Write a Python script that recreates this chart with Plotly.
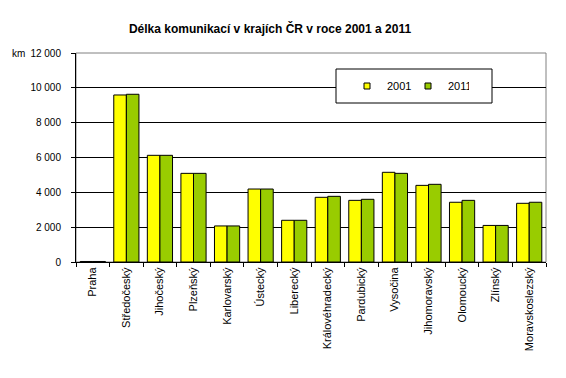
import plotly.graph_objects as go

categories = ["Praha", "Středočeský", "Jihočeský", "Plzeňský", "Karlovarský", "Ústecký",
              "Liberecký", "Královéhradecký", "Pardubický", "Vysočina", "Jihomoravský",
              "Olomoucký", "Zlínský", "Moravskoslezský"]
values_2001 = [30, 9590, 6125, 5090, 2070, 4190, 2395, 3715, 3540, 5150, 4400, 3430, 2100, 3370]
values_2011 = [30, 9630, 6125, 5090, 2070, 4190, 2395, 3770, 3600, 5090, 4460, 3540, 2100, 3430]
y_tick_values = [0, 2000, 4000, 6000, 8000, 10000, 12000]
y_tick_labels = ["0", "2 000", "4 000", "6 000", "8 000", "10 000", "12 000"]
series_names = ["2001", "2011"]
series_colors = ["#FFFF00", "#99CC00"]

FONT = "Liberation Sans, Arial, sans-serif"

fig = go.Figure()
for name, vals, col in zip(series_names, [values_2001, values_2011], series_colors):
    fig.add_trace(go.Bar(x=categories, y=vals, name=name, showlegend=False,
                         marker=dict(color=col, line=dict(color="black", width=1))))
# legend entries with small square symbols
for name, col in zip(series_names, series_colors):
    fig.add_trace(go.Scatter(x=[None], y=[None], name=name, mode="markers",
                             marker=dict(symbol="square", size=6, color=col,
                                         line=dict(color="black", width=1))))

L, R, T, B = 76, 20, 53, 116
W, H = 566, 378
pw, ph = W - L - R, H - T - B

def px_x(x):
    return (x - L) / pw

def px_y(y):
    return (H - B - y) / ph

fig.update_layout(
    width=W, height=H,
    margin=dict(l=L, r=R, t=T, b=B, pad=0),
    paper_bgcolor="white", plot_bgcolor="white",
    font=dict(family=FONT, size=11, color="black"),
    barmode="group", bargap=0.25, bargroupgap=0,
    title=dict(text="<b>Délka komunikací v krajích ČR v roce 2001 a 2011</b>",
               x=270 / W, xanchor="center", y=1 - 29 / H, yanchor="middle",
               font=dict(family=FONT, size=12, color="black")),
    showlegend=True,
    legend=dict(orientation="h", x=px_x(347), xanchor="left", y=px_y(86), yanchor="middle",
                bgcolor="rgba(0,0,0,0)", borderwidth=0,
                font=dict(family=FONT, size=11, color="black"),
                entrywidth=16, entrywidthmode="pixels", itemwidth=30,
                traceorder="normal"),
    xaxis=dict(type="category", showline=True, linecolor="black", linewidth=1,
               ticks="outside", tickson="boundaries", ticklen=4, tickcolor="black",
               tickangle=-90, showgrid=False,
               tickfont=dict(family=FONT, size=11, color="black")),
    yaxis=dict(range=[0, 12000], tickvals=y_tick_values, ticktext=y_tick_labels,
               showline=True, linecolor="black", linewidth=1,
               ticks="outside", ticklen=4, tickcolor="black",
               showgrid=True, gridcolor="black", gridwidth=1, zeroline=False,
               ticklabelstandoff=8,
               tickfont=dict(family=FONT, size=10, color="black")),
    shapes=[
        dict(type="rect", xref="paper", yref="paper", x0=0, x1=1, y0=0, y1=1,
             line=dict(color="#808080", width=1), fillcolor="rgba(0,0,0,0)", layer="below"),
        dict(type="rect", xref="paper", yref="paper",
             x0=px_x(336), x1=px_x(492), y0=px_y(103), y1=px_y(69),
             line=dict(color="black", width=1), fillcolor="white", layer="above"),
    ],
    annotations=[
        dict(text="km", xref="paper", yref="paper", x=px_x(10), y=px_y(53),
             xanchor="left", yanchor="middle", showarrow=False,
             font=dict(family=FONT, size=10, color="black")),
    ],
)

fig.write_html("out.html", config={"displayModeBar": False})

# remove default page margin so the figure sits at the window's top-left corner
with open("out.html", "r", encoding="utf-8") as f:
    html = f.read()
html = html.replace("<head>", "<head><style>html,body{margin:0;padding:0;overflow:hidden;}</style>", 1)
with open("out.html", "w", encoding="utf-8") as f:
    f.write(html)
